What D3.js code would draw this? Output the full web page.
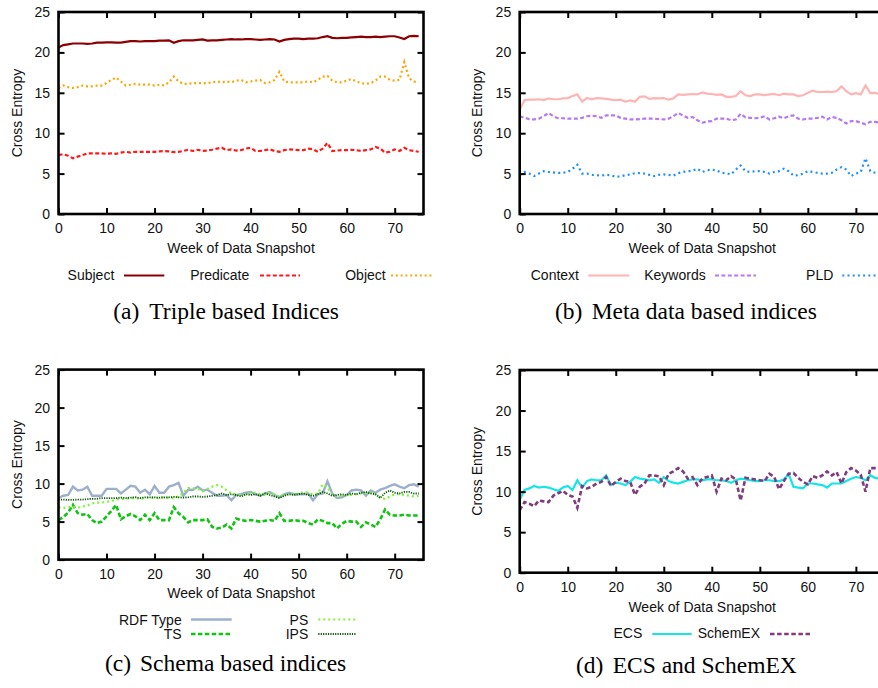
<!DOCTYPE html>
<html><head><meta charset="utf-8">
<script src="https://cdn.jsdelivr.net/npm/d3@7/dist/d3.min.js"></script>
<style>body{margin:0;background:#fff} svg{display:block}</style>
</head><body>
<svg id="chart" width="878" height="688"></svg>
<script>
// ---------------- DATA ----------------
const weeks = [0,1,2,3,4,5,6,7,8,9,10,11,12,13,14,15,16,17,18,19,20,21,22,23,24,25,26,27,28,29,30,31,32,33,34,35,36,37,38,39,40,41,42,43,44,45,46,47,48,49,50,51,52,53,54,55,56,57,58,59,60,61,62,63,64,65,66,67,68,69,70,71,72,73,74,75];
const xTickValues = [0,10,20,30,40,50,60,70];
const yTickValues = [0,5,10,15,20,25];
const xDomain = [0, 76];
const yDomain = [0, 25];
const xAxisTitle = "Week of Data Snapshot";
const yAxisTitle = "Cross Entropy";

// (a) Triple based Indices
const subject = [20.6,20.9,21.0,21.1,21.1,21.1,21.05,21.1,21.2,21.2,
 21.25,21.25,21.2,21.2,21.3,21.4,21.4,21.35,21.4,21.4,
 21.4,21.45,21.45,21.5,21.2,21.4,21.5,21.5,21.5,21.55,
 21.6,21.45,21.5,21.5,21.55,21.6,21.65,21.6,21.6,21.65,
 21.65,21.6,21.55,21.6,21.65,21.6,21.35,21.55,21.65,21.7,
 21.7,21.65,21.7,21.7,21.75,21.9,22.0,21.8,21.75,21.8,
 21.8,21.85,21.9,21.95,21.9,21.9,21.95,21.9,21.95,22.0,
 22.0,21.85,21.65,22.0,22.05,22.0];
const predicate = [7.3,7.4,7.2,6.9,7.1,7.3,7.5,7.5,7.5,7.5,
 7.45,7.5,7.45,7.6,7.7,7.6,7.7,7.7,7.7,7.7,
 7.7,7.75,7.8,7.75,7.65,7.7,7.8,7.95,7.8,7.95,
 7.8,7.85,7.95,8.1,8.2,7.9,8.0,7.85,7.9,8.1,
 8.2,7.8,7.8,7.9,8.0,7.8,7.7,7.9,8.0,7.95,
 7.9,7.9,8.1,8.0,7.7,8.1,8.8,7.8,7.85,7.9,
 7.9,7.95,7.9,7.8,7.9,8.0,8.3,8.1,7.6,7.7,
 8.0,7.8,8.2,7.9,7.8,7.7];
const object = [15.6,15.9,15.7,15.6,15.7,15.9,15.8,15.8,15.9,15.9,
 16.2,16.6,16.9,16.4,15.9,16.0,16.1,16.0,16.0,16.0,
 15.9,16.0,15.9,16.3,17.0,16.4,16.1,16.1,16.2,16.2,
 16.2,16.2,16.3,16.4,16.3,16.4,16.3,16.5,16.6,16.3,
 16.4,16.5,16.6,16.2,16.3,16.6,17.6,16.4,16.3,16.3,
 16.3,16.3,16.4,16.3,16.6,17.0,17.1,16.5,16.3,16.3,
 16.5,16.7,16.4,16.2,16.1,16.2,16.5,17.0,17.0,16.6,
 16.5,16.6,18.8,16.8,16.4,16.3];

// (b) Meta data based indices
const context = [12.9,14.1,14.15,14.15,14.2,14.1,14.3,14.2,14.2,14.3,
 14.35,14.6,14.8,13.9,14.35,14.2,14.35,14.3,14.25,14.15,
 14.1,14.15,13.9,14.05,13.9,14.5,14.55,14.25,14.35,14.3,
 14.35,14.15,14.3,14.8,14.75,14.8,14.85,14.8,15.05,14.9,
 14.85,14.75,14.8,14.5,14.5,14.6,15.2,14.7,14.6,14.8,
 14.8,14.7,14.8,14.85,14.7,14.9,14.8,14.8,14.6,14.7,
 15.0,15.25,15.1,15.1,15.15,15.1,15.2,15.8,15.2,14.8,
 14.95,14.8,15.9,14.95,15.0,14.8];
const keywords = [12.1,11.9,11.75,11.7,11.8,12.1,12.5,12.1,11.85,11.85,
 11.8,11.8,11.8,11.9,12.1,12.15,12.1,11.9,12.2,12.2,
 12.2,11.9,11.8,11.7,11.7,11.75,11.8,11.8,11.8,11.75,
 11.7,11.8,12.1,12.5,12.2,11.9,12.0,11.6,11.3,11.45,
 11.5,11.8,11.8,11.8,11.6,11.7,12.4,11.95,11.9,11.85,
 11.9,12.1,11.7,11.85,12.05,11.85,12.1,12.2,11.8,11.7,
 11.8,11.8,11.9,12.05,11.7,12.0,11.9,11.6,11.2,11.5,
 11.5,11.3,11.1,11.4,11.4,11.3];
const pld = [4.8,5.2,5.0,4.7,5.0,5.3,5.2,5.15,5.1,5.1,
 5.2,5.6,6.1,5.0,5.0,4.85,4.8,4.75,4.85,4.8,
 4.6,4.65,4.8,4.9,5.05,5.05,5.0,4.85,4.7,4.85,
 4.9,4.85,4.75,5.05,5.2,5.3,5.35,5.6,5.2,5.4,
 5.5,5.4,5.1,5.05,4.9,5.5,6.0,5.3,5.2,5.3,
 5.3,5.2,5.0,5.2,5.3,5.6,5.3,4.75,4.8,5.0,
 5.3,5.2,5.1,5.0,5.0,5.1,5.5,5.8,5.5,4.7,
 5.0,5.2,6.9,5.3,5.1,5.0];

// (c) Schema based indices
const rdfType = [8.1,8.4,8.5,9.6,9.1,9.2,9.6,8.4,8.4,8.4,
 9.3,9.3,9.3,8.7,9.2,9.7,9.6,8.8,9.2,8.6,
 9.7,8.8,8.8,9.6,9.8,10.1,8.4,9.2,9.2,9.6,
 9.1,9.2,8.8,8.4,8.4,8.5,7.8,8.5,8.6,8.8,
 8.9,8.6,8.4,8.7,8.9,8.5,8.2,8.6,8.8,8.6,
 8.6,8.6,8.7,7.8,8.6,8.7,10.3,8.7,8.1,8.2,
 8.5,9.1,9.2,9.1,8.4,9.1,8.8,9.2,9.4,9.7,
 9.9,9.6,9.4,9.8,9.9,9.6];
const ts = [5.2,5.6,6.2,7.2,6.1,5.9,6.0,5.2,4.8,5.0,
 5.7,6.4,7.2,5.3,5.7,6.0,5.7,5.2,5.9,5.2,
 6.1,5.2,5.2,5.2,6.9,6.1,5.6,4.9,5.2,5.2,
 5.2,5.3,4.3,4.1,4.2,4.6,4.1,5.4,5.2,5.1,
 5.2,5.1,5.0,5.1,5.2,5.1,6.1,5.1,5.1,5.2,
 5.1,5.1,4.8,4.6,5.3,5.1,4.8,4.8,4.1,4.7,
 5.1,5.0,5.0,4.3,4.9,4.6,4.3,5.3,6.6,5.9,
 5.8,5.8,5.9,5.8,5.8,5.8];
const ps = [6.9,6.8,6.9,7.0,6.8,7.0,7.1,7.4,7.5,7.5,
 7.6,7.7,7.9,8.0,8.0,8.1,8.1,8.0,8.1,8.2,
 8.1,8.1,8.2,8.1,8.1,8.3,8.8,9.4,9.4,9.3,
 9.0,9.3,9.6,9.8,9.6,9.1,8.7,8.6,8.5,8.6,
 8.7,8.8,8.6,8.5,8.8,8.6,8.3,8.6,8.6,8.7,
 8.6,8.9,8.8,8.6,8.7,9.9,9.5,8.6,8.3,8.4,
 8.5,8.5,8.6,8.7,8.7,8.8,8.6,8.1,8.0,8.3,
 8.6,8.6,8.5,8.4,8.3,8.4];
const ips = [7.9,7.9,7.85,7.85,7.9,7.9,7.95,8.0,8.0,8.1,
 8.1,8.1,8.1,8.15,8.1,8.15,8.2,8.1,8.2,8.2,
 8.2,8.15,8.2,8.2,8.25,8.2,8.15,8.2,8.3,8.3,
 8.25,8.3,8.4,8.5,8.7,8.5,8.6,8.5,8.3,8.6,
 8.5,8.6,8.4,8.7,8.5,8.3,8.1,8.4,8.6,8.5,
 8.6,8.7,8.5,8.4,8.6,8.9,8.7,8.4,8.5,8.6,
 8.5,8.7,8.6,8.8,8.9,8.7,8.6,8.1,8.8,9.1,
 8.8,8.7,8.9,8.9,8.7,8.7];

// (d) ECS and SchemEX
const ecs = [9.0,10.2,10.4,10.7,10.5,10.6,10.5,10.3,10.1,10.5,
 10.7,10.2,11.4,10.5,11.3,11.5,11.4,11.4,12.0,10.8,
 11.1,11.0,10.8,11.2,11.8,11.6,11.5,11.4,11.5,11.1,
 11.8,11.3,11.1,11.0,11.2,11.4,11.5,11.5,11.4,11.5,
 11.5,11.4,11.4,11.3,11.1,11.4,11.6,11.5,11.4,11.3,
 11.3,11.4,11.4,11.3,11.3,11.5,12.2,10.6,10.5,10.4,
 11.0,11.0,10.9,10.8,10.5,11.0,11.0,11.0,11.3,11.6,
 11.8,11.7,11.4,12.0,11.7,11.6];
const schemex = [7.7,8.7,8.5,8.2,8.9,8.8,8.7,9.5,9.8,10.1,
 9.6,9.4,8.0,10.7,10.4,10.6,11.0,11.2,11.8,10.7,
 11.2,11.6,11.3,11.2,9.6,10.6,11.0,12.0,12.0,11.9,
 10.8,12.2,12.5,12.9,12.5,11.6,11.8,10.8,11.6,11.8,
 12.0,10.0,11.6,11.4,11.9,11.5,8.9,11.7,11.6,11.5,
 11.4,11.3,12.2,11.8,10.3,11.3,12.2,12.3,11.7,11.2,
 10.9,11.9,11.7,12.0,12.5,12.0,12.4,11.0,12.4,12.9,
 12.6,12.1,10.0,12.9,12.9,12.8];

// ---------------- STYLES / LAYOUT ----------------
const SANS = '"Liberation Sans", Arial, Helvetica, sans-serif';
const SERIF = '"Liberation Serif", "Times New Roman", Times, serif';

const styles = {
  Subject:   {color:'#8b0000', width:2.2, dash:null},
  Predicate: {color:'#ff1a1a', width:2.2, dash:'4,2.4'},
  Object:    {color:'#ffa500', width:2.2, dash:'2,2.8'},
  Context:   {color:'#ffb4b4', width:2.2, dash:null},
  Keywords:  {color:'#b879f0', width:2.2, dash:'4,2.4'},
  PLD:       {color:'#1e8fff', width:2.2, dash:'2,3.2'},
  'RDF Type':{color:'#9db0cb', width:2.4, dash:null},
  TS:        {color:'#11c411', width:2.6, dash:'4.5,2.4'},
  PS:        {color:'#7cf53a', width:2.2, dash:'2,3'},
  IPS:       {color:'#0a5a0a', width:1.8, dash:'1.2,1.2'},
  ECS:       {color:'#14e6e6', width:2.2, dash:null},
  SchemEX:   {color:'#7f3b7f', width:2.6, dash:'4.5,2.6'}
};

const panels = [
  {caption:'(a)', title:'Triple based Indices', left:58.5, top:12, width:365, height:202,
   capX:113.3, titleX:149.3, capY:319, yTitleX:22, xTitleY:252.5,
   series:[['Subject',subject],['Predicate',predicate],['Object',object]],
   legend:[{name:'Subject',tx:114.3,x1:124,x2:164.3,ty:280,ly:275.5},
           {name:'Predicate',tx:249.3,x1:260,x2:300,ty:280,ly:275.5},
           {name:'Object',tx:385.7,x1:391,x2:433.3,ty:280,ly:275.5}]},
  {caption:'(b)', title:'Meta data based indices', left:519.7, top:12, width:365, height:202,
   capX:555, titleX:591.7, capY:319, yTitleX:482, xTitleY:252.5,
   series:[['Context',context],['Keywords',keywords],['PLD',pld]],
   legend:[{name:'Context',tx:579,x1:588.3,x2:629.3,ty:280,ly:275.5},
           {name:'Keywords',tx:705.7,x1:715,x2:756,ty:280,ly:275.5},
           {name:'PLD',tx:833.3,x1:842.3,x2:884,ty:280,ly:275.5}]},
  {caption:'(c)', title:'Schema based indices', left:58.5, top:369.6, width:365, height:190,
   capX:105, titleX:140, capY:671, yTitleX:22, xTitleY:597.5,
   series:[['RDF Type',rdfType],['TS',ts],['PS',ps],['IPS',ips]],
   legend:[{name:'RDF Type',tx:181.7,x1:191,x2:231.7,ty:624.5,ly:619.5},
           {name:'TS',tx:181.7,x1:191,x2:231.7,ty:639,ly:634},
           {name:'PS',tx:308.3,x1:318.3,x2:356.7,ty:624.5,ly:619.5},
           {name:'IPS',tx:308.3,x1:318.3,x2:356.7,ty:639,ly:634}]},
  {caption:'(d)', title:'ECS and SchemEX', left:519.7, top:370, width:365, height:202.7,
   capX:576, titleX:612.7, capY:673, yTitleX:482, xTitleY:612,
   series:[['ECS',ecs],['SchemEX',schemex]],
   legend:[{name:'ECS',tx:642.3,x1:652.3,x2:691.7,ty:638.3,ly:634},
           {name:'SchemEX',tx:760,x1:770,x2:810.7,ty:638.3,ly:634}]}
];

// ---------------- DRAW ----------------
const svg = d3.select('#chart');
svg.append('rect').attr('width',878).attr('height',688).attr('fill','#fff');

panels.forEach((p, pi) => {
  const g = svg.append('g');
  const x = d3.scaleLinear().domain(xDomain).range([p.left, p.left + p.width]);
  const y = d3.scaleLinear().domain(yDomain).range([p.top + p.height, p.top]);
  const bottom = p.top + p.height, right = p.left + p.width;

  // data lines
  const clipId = 'clip' + pi;
  g.append('clipPath').attr('id', clipId).append('rect')
    .attr('x', p.left).attr('y', p.top).attr('width', p.width).attr('height', p.height);
  const line = d3.line().x((d, i) => x(weeks[i])).y(d => y(d));
  const lg = g.append('g').attr('clip-path', `url(#${clipId})`);
  p.series.forEach(([name, vals]) => {
    const s = styles[name];
    lg.append('path').datum(vals).attr('d', line)
      .attr('fill', 'none').attr('stroke', s.color).attr('stroke-width', s.width)
      .attr('stroke-dasharray', s.dash).attr('stroke-linejoin', 'miter');
  });

  // axes
  const axB = g.append('g').attr('transform', `translate(0,${bottom})`)
    .call(d3.axisBottom(x).tickValues(xTickValues).tickSizeInner(-6).tickSizeOuter(0).tickPadding(9.5));
  const axT = g.append('g').attr('transform', `translate(0,${p.top})`)
    .call(d3.axisTop(x).tickValues(xTickValues).tickSizeInner(-6).tickSizeOuter(0).tickFormat(''));
  const axL = g.append('g').attr('transform', `translate(${p.left},0)`)
    .call(d3.axisLeft(y).tickValues(yTickValues).tickSizeInner(-6).tickSizeOuter(0).tickPadding(8.5));
  const axR = g.append('g').attr('transform', `translate(${right},0)`)
    .call(d3.axisRight(y).tickValues(yTickValues).tickSizeInner(-6).tickSizeOuter(0).tickFormat(''));
  [axB, axT, axL, axR].forEach(a => {
    a.select('.domain').remove();
    a.selectAll('line').attr('stroke', '#000').attr('stroke-width', 2);
    a.selectAll('text').attr('fill', '#111').style('font-family', SANS).style('font-size', '14px');
  });

  // border
  g.append('rect').attr('x', p.left).attr('y', p.top).attr('width', p.width).attr('height', p.height)
    .attr('fill', 'none').attr('stroke', '#000').attr('stroke-width', 2.6);

  // axis titles
  g.append('text').attr('x', (p.left + right) / 2).attr('y', p.xTitleY)
    .attr('text-anchor', 'middle').style('font-family', SANS).style('font-size', '14px')
    .attr('fill', '#111').text(xAxisTitle);
  g.append('text').attr('transform', `translate(${p.yTitleX},${(p.top + bottom) / 2}) rotate(-90)`)
    .attr('text-anchor', 'middle').style('font-family', SANS).style('font-size', '14px')
    .attr('fill', '#111').text(yAxisTitle);

  // legend
  p.legend.forEach(l => {
    const s = styles[l.name];
    g.append('text').attr('x', l.tx).attr('y', l.ty).attr('text-anchor', 'end')
      .style('font-family', SANS).style('font-size', '14px').attr('fill', '#111').text(l.name);
    g.append('line').attr('x1', l.x1).attr('x2', l.x2).attr('y1', l.ly).attr('y2', l.ly)
      .attr('stroke', s.color).attr('stroke-width', s.width).attr('stroke-dasharray', s.dash);
  });

  // caption
  g.append('text').attr('x', p.capX).attr('y', p.capY)
    .style('font-family', SERIF).style('font-size', '23.5px').attr('fill', '#000').text(p.caption);
  g.append('text').attr('x', p.titleX).attr('y', p.capY)
    .style('font-family', SERIF).style('font-size', '23.5px').attr('fill', '#000').text(p.title);
});
</script>
</body></html>
